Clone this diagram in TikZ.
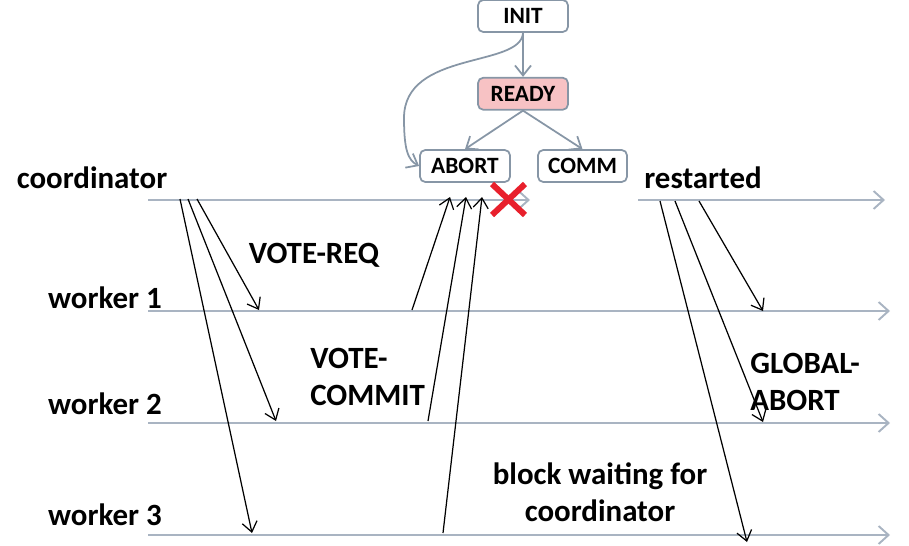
\documentclass[tikz,border=0pt]{standalone}
\usepackage{fontspec}
\setmainfont{Carlito}
\usepackage{xcolor}
\definecolor{lineGray}{HTML}{A9B4C2}
\definecolor{boxEdge}{HTML}{8796A6}
\definecolor{readyFill}{HTML}{F7C2C4}
\definecolor{crossRed}{HTML}{E8202C}
\usetikzlibrary{positioning,calc,arrows.meta}
\tikzset{%
  stateBox/.style={%
    rectangle,
    rounded corners=3pt,
    draw=boxEdge,
    line width=1pt,
    fill=white,
    minimum width=1.8cm,
    minimum height=0.64cm,
    inner sep=0pt,
    font=\fontsize{13.3}{16}\selectfont\bfseries
  },
  stateArrow/.style={%
    -{Straight Barb[length=2mm,width=3.2mm]},
    line width=1pt,
    color=boxEdge
  },
  timeLine/.style={%
    -{Straight Barb[length=2mm,width=3.6mm]},
    line width=1.1pt,
    color=lineGray
  },
  msgArrow/.style={%
    -{Straight Barb[length=2mm,width=3mm]},
    line width=0.7pt,
    color=black
  },
  bigLabel/.style={%
    font=\fontsize{17.6}{21}\selectfont\bfseries,
    inner sep=0pt
  }
}
\begin{document}
\begin{tikzpicture}[x=0.02cm, y=-0.02cm]
  \useasboundingbox (0,0) rectangle (909,545);

  % state machine of the coordinator
  \node[stateBox] (init) at (523,16) {INIT};
  \node[stateBox, fill=readyFill, below=0.88cm of init] (ready) {READY};
  \node[stateBox] (abort) at (465,166) {ABORT};
  \node[stateBox, minimum width=1.78cm] (comm) at (582.5,166) {COMM};

  \draw[stateArrow] (init) -- (ready);
  \draw[stateArrow] (ready.south) -- (abort.north);
  \draw[stateArrow] (ready.south) -- (comm.north);
  \draw[stateArrow] (init.south) .. controls (521,68) and (404,50) .. (404,118)
    .. controls (404,150) and (408,160) .. (abort.west);

  % time lines
  \coordinate (coordStart) at (148,200);
  \coordinate (coordEnd) at (530,200);
  \coordinate (restStart) at (638,200);
  \coordinate (restEnd) at (885,200);
  \coordinate (wOneStart) at (148,311);
  \coordinate (wOneEnd) at (890,311);
  \coordinate (wTwoStart) at (148,423);
  \coordinate (wTwoEnd) at (890,423);
  \coordinate (wThreeStart) at (148,535);
  \coordinate (wThreeEnd) at (890,535);

  \draw[timeLine] (coordStart) -- (coordEnd);
  \draw[timeLine] (restStart) -- (restEnd);
  \draw[timeLine] (wOneStart) -- (wOneEnd);
  \draw[timeLine] (wTwoStart) -- (wTwoEnd);
  \draw[timeLine] (wThreeStart) -- (wThreeEnd);

  \node[bigLabel] (coordName) at (92,178) {coordinator};
  \node[bigLabel] (restName) at (703,178) {restarted};
  \node[bigLabel] (wOneName) at (105,298) {worker 1};
  \node[bigLabel] (wTwoName) at (105,404) {worker 2};
  \node[bigLabel] (wThreeName) at (105,515) {worker 3};

  % VOTE-REQ
  \coordinate (reqA) at (197,199);
  \coordinate (reqB) at (188,199);
  \coordinate (reqC) at (180,199);
  \coordinate (reqAend) at (259,310);
  \coordinate (reqBend) at (276,421);
  \coordinate (reqCend) at (252,533);
  \draw[msgArrow] (reqA) -- (reqAend);
  \draw[msgArrow] (reqB) -- (reqBend);
  \draw[msgArrow] (reqC) -- (reqCend);

  % VOTE-COMMIT
  \coordinate (voteA) at (412,310);
  \coordinate (voteB) at (428,421);
  \coordinate (voteC) at (443,533);
  \coordinate (voteAend) at (450,197);
  \coordinate (voteBend) at (466,197);
  \coordinate (voteCend) at (482,197);
  \draw[msgArrow] (voteA) -- (voteAend);
  \draw[msgArrow] (voteB) -- (voteBend);
  \draw[msgArrow] (voteC) -- (voteCend);

  % GLOBAL-ABORT
  \coordinate (globA) at (699,201);
  \coordinate (globB) at (675,201);
  \coordinate (globC) at (660,201);
  \coordinate (globAend) at (763,311);
  \coordinate (globBend) at (763,422);
  \coordinate (globCend) at (747,542);
  \draw[msgArrow] (globA) -- (globAend);
  \draw[msgArrow] (globB) -- (globBend);
  \draw[msgArrow] (globC) -- (globCend);

  % crash of the coordinator
  \draw[crossRed, line width=3.4pt] (492,184) -- (525,215);
  \draw[crossRed, line width=3.4pt] (492,215) -- (525,184);

  \node[bigLabel] (reqText) at (314,255) {VOTE-REQ};
  \node[bigLabel, anchor=west, align=left] (voteText) at (310,377) {VOTE-\\COMMIT};
  \node[bigLabel, anchor=west, align=left] (globText) at (750,382) {GLOBAL-\\ABORT};
  \node[bigLabel, align=center] (blockText) at (600,492) {block waiting for\\coordinator};
\end{tikzpicture}
\end{document}
